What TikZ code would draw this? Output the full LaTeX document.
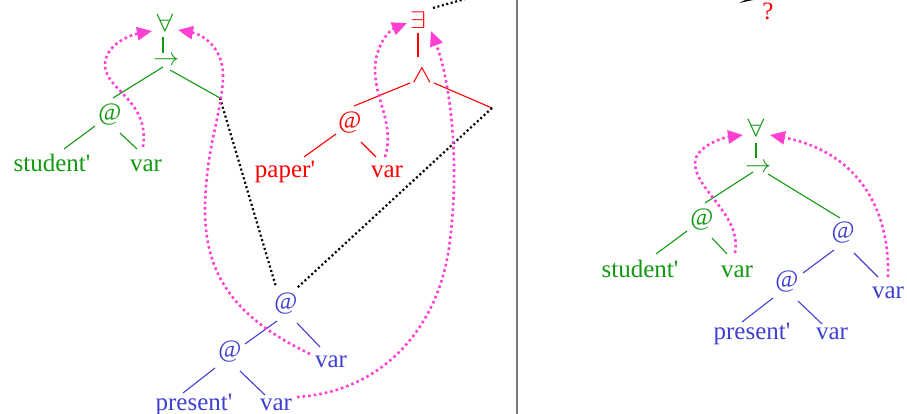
\documentclass[tikz,border=0pt]{standalone}
\usepackage{graphicx}
\usepackage{fontspec}
\setmainfont{Liberation Serif}[Ligatures=TeXOff]
\usetikzlibrary{arrows.meta}
\definecolor{tgreen}{RGB}{17,153,17}
\definecolor{tred}{RGB}{255,0,0}
\definecolor{tblue}{RGB}{64,64,208}
\definecolor{tpink}{RGB}{255,64,208}
\definecolor{tgray}{RGB}{120,120,120}
\newcommand\msym[3]{\scalebox{#1}[#2]{$#3$}}
\tikzset{
  lbl/.style={inner sep=0pt, font=\fontsize{25}{30}\selectfont},
  sym/.style={inner sep=0pt},
  wrd/.style={lbl, anchor=base},
  edge/.style={line width=1.1pt},
  blk/.style={black, line width=2.2pt, dash pattern=on 2pt off 2.6pt},
  pnk/.style={tpink, line width=2.6pt, dash pattern=on 2.6pt off 3pt,
    -{Triangle[length=15pt,width=13pt]}},
}
\begin{document}
\begin{tikzpicture}[x=1pt,y=-1pt]
\useasboundingbox (0,0) rectangle (907,414);
% divider
\coordinate (dt) at (517,-2);
\coordinate (db) at (517,416);
\draw[tgray, line width=1.6pt] (dt) -- (db);

% ---------- left: green tree ----------
\begin{scope}[tgreen]
\node[sym] (fa) at (165,23) {\msym{3}{2.5}{\forall}};
\node[sym] (ar) at (166,61) {\msym{2.6}{2.5}{\rightarrow}};
\node[lbl] (ga) at (110,115) {@};
\node[wrd] (gs) at (52,172) {student'};
\node[wrd] (gv) at (146,172) {var};
\coordinate (gR) at (220,98);
\draw[edge] ([shift={(-2,14)}]fa.center) -- ([shift={(-3,-8)}]ar.center);
\draw[edge] ([shift={(-3,6)}]ar.center) -- ([shift={(3,-17)}]ga.center);
\draw[edge] ([shift={(4,9)}]ar.center) -- (gR);
\draw[edge] ([shift={(-15,11)}]ga.center) -- ([shift={(12,-23)}]gs.base);
\draw[edge] ([shift={(10,18)}]ga.center) -- ([shift={(-9,-23)}]gv.base);
\end{scope}

% ---------- left: red tree ----------
\begin{scope}[tred]
\node[sym] (ex) at (418,20) {\msym{2.9}{2.4}{\exists}};
\node[sym] (an) at (422,76) {\msym{3.1}{2.5}{\wedge}};
\node[lbl] (ra) at (350,123) {@};
\node[wrd] (rp) at (285,178) {paper'};
\node[wrd] (rv) at (387,178) {var};
\coordinate (rR) at (492,108);
\draw[edge] ([shift={(0,13)}]ex.center) -- ([shift={(-4,-19)}]an.center);
\draw[edge] ([shift={(-12,7)}]an.center) -- ([shift={(4,-17)}]ra.center);
\draw[edge] ([shift={(12,7)}]an.center) -- (rR);
\draw[edge] ([shift={(-14,11)}]ra.center) -- ([shift={(19,-21)}]rp.base);
\draw[edge] ([shift={(11,19)}]ra.center) -- ([shift={(-11,-21)}]rv.base);
\end{scope}

% ---------- left: blue tree ----------
\begin{scope}[tblue]
\node[lbl] (ba) at (286,304) {@};
\node[lbl] (bb) at (230,352) {@};
\node[wrd] (bp) at (194,410) {present'};
\node[wrd] (bv) at (276,410) {var};
\node[wrd] (bu) at (331,367) {var};
\draw[edge] ([shift={(-9,17)}]ba.center) -- ([shift={(15,-8)}]bb.center);
\draw[edge] ([shift={(11,19)}]ba.center) -- ([shift={(-11,-20)}]bu.base);
\draw[edge] ([shift={(-15,16)}]bb.center) -- ([shift={(-11,-17)}]bp.base);
\draw[edge] ([shift={(10,19)}]bb.center) -- ([shift={(-11,-15)}]bv.base);
\end{scope}

% black dotted connectors
\coordinate (exOut) at (472,-3);
\draw[blk] (gR) -- ([shift={(-10,-17)}]ba.center);
\draw[blk] (rR) -- ([shift={(11,-16)}]ba.center);
\draw[blk] ([shift={(15,-12)}]ex.center) -- (exOut);

% pink arrows (left)
\draw[pnk] ([shift={(-3,-25)}]gv.base) .. controls (150,100) and (105,90) .. (105,65)
  .. controls (105,45) and (130,35) .. ([shift={(-13,8)}]fa.center);
\draw[pnk] ([shift={(-21,-13)}]bu.base) .. controls (240,320) and (205,280) .. (205,210)
  .. controls (205,150) and (223,110) .. (223,75)
  .. controls (223,50) and (205,35) .. ([shift={(13,7)}]fa.center);
\draw[pnk] ([shift={(-2,-21)}]rv.base) .. controls (395,125) and (375,100) .. (375,70)
  .. controls (375,45) and (390,30) .. ([shift={(-11,3)}]ex.center);
\draw[pnk] ([shift={(21,-13)}]bv.base) .. controls (380,392) and (440,330) .. (450,240)
  .. controls (460,160) and (450,80) .. ([shift={(13,11)}]ex.center);

% ---------- right panel ----------
\fill[black] (739,3) -- (758,-1) -- (758,-6) -- cycle;
\node[wrd, tred] (q) at (768,20) {?};

\begin{scope}[tgreen]
\node[sym] (fa2) at (756,128) {\msym{3}{2.5}{\forall}};
\node[sym] (ar2) at (758,168) {\msym{2.6}{2.5}{\rightarrow}};
\node[lbl] (ga2) at (702,220) {@};
\node[wrd] (gs2) at (640,277) {student'};
\node[wrd] (gv2) at (737,277) {var};
\draw[edge] ([shift={(0,15)}]fa2.center) -- ([shift={(-2,-10)}]ar2.center);
\draw[edge] ([shift={(-5,4)}]ar2.center) -- ([shift={(3,-17)}]ga2.center);
\draw[edge] ([shift={(-15,11)}]ga2.center) -- ([shift={(16,-23)}]gs2.base);
\draw[edge] ([shift={(10,18)}]ga2.center) -- ([shift={(-10,-23)}]gv2.base);
\end{scope}
\begin{scope}[tblue]
\node[lbl] (ba2) at (843,233) {@};
\node[lbl] (bb2) at (787,282) {@};
\node[wrd] (bp2) at (752,339) {present'};
\node[wrd] (bv2) at (832,339) {var};
\node[wrd] (bu2) at (888,298) {var};
\draw[edge] ([shift={(-9,17)}]ba2.center) -- ([shift={(16,-9)}]bb2.center);
\draw[edge] ([shift={(11,20)}]ba2.center) -- ([shift={(-10,-21)}]bu2.base);
\draw[edge] ([shift={(-14,16)}]bb2.center) -- ([shift={(-10,-17)}]bp2.base);
\draw[edge] ([shift={(11,19)}]bb2.center) -- ([shift={(-10,-15)}]bv2.base);
\end{scope}
\draw[edge, tgreen] ([shift={(10,6)}]ar2.center) -- ([shift={(-3,-15)}]ba2.center);

\draw[pnk] ([shift={(-2,-24)}]gv2.base) .. controls (742,215) and (695,190) .. (695,163)
  .. controls (695,148) and (720,138) .. ([shift={(-13,7)}]fa2.center);
\draw[pnk] ([shift={(0,-21)}]bu2.base) .. controls (890,200) and (850,150) .. ([shift={(14,7)}]fa2.center);
\end{tikzpicture}
\end{document}
